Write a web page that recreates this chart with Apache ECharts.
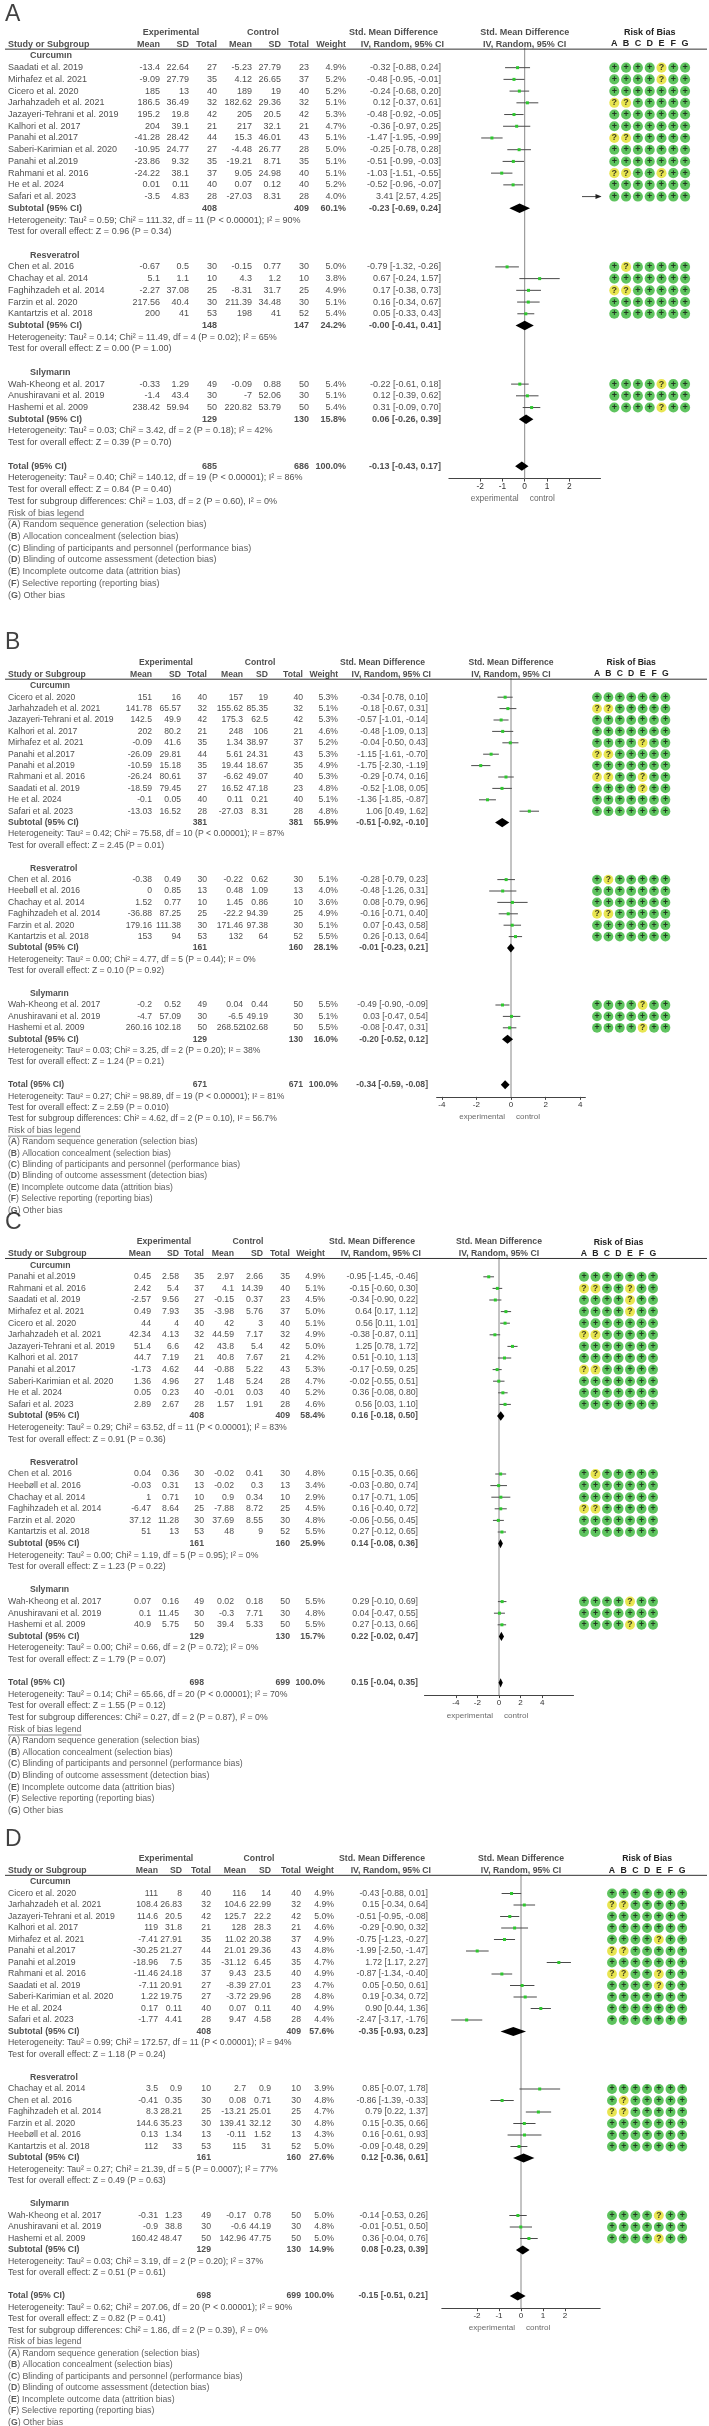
<!DOCTYPE html>
<html>
<head>
<meta charset="utf-8">
<script src="https://cdn.jsdelivr.net/npm/echarts@6/dist/echarts.min.js"></script>
<style>
  html, body { margin: 0; padding: 0; background: #fff; }
  #main { width: 709px; height: 2426px; }
</style>
</head>
<body>
<div id="main"></div>
<script>
// study rows: name, exp mean, exp sd, exp n, ctl mean, ctl sd, ctl n, weight %, smd, lo, hi, risk of bias A-G
const curcuminA = [
  ['Saadati et al. 2019', -13.4, 22.64, 27, -5.23, 27.79, 23, 4.9, -0.32, -0.88, 0.24, '++++?++'],
  ['Mirhafez et al. 2021', -9.09, 27.79, 35, 4.12, 26.65, 37, 5.2, -0.48, -0.95, -0.01, '++++?++'],
  ['Cicero et al. 2020', 185, 13, 40, 189, 19, 40, 5.2, -0.24, -0.68, 0.20, '+++++++'],
  ['Jarhahzadeh et al. 2021', 186.5, 36.49, 32, 182.62, 29.36, 32, 5.1, 0.12, -0.37, 0.61, '??+++++'],
  ['Jazayeri-Tehrani et al. 2019', 195.2, 19.8, 42, 205, 20.5, 42, 5.3, -0.48, -0.92, -0.05, '+++++++'],
  ['Kalhori et al. 2017', 204, 39.1, 21, 217, 32.1, 21, 4.7, -0.36, -0.97, 0.25, '+++++++'],
  ['Panahi et al.2017', -41.28, 28.42, 44, 15.3, 46.01, 43, 5.1, -1.47, -1.95, -0.99, '??+++++'],
  ['Saberi-Karimian et al. 2020', -10.95, 24.77, 27, -4.48, 26.77, 28, 5.0, -0.25, -0.78, 0.28, '+++++++'],
  ['Panahi et al.2019', -23.86, 9.32, 35, -19.21, 8.71, 35, 5.1, -0.51, -0.99, -0.03, '+++++++'],
  ['Rahmani et al. 2016', -24.22, 38.1, 37, 9.05, 24.98, 40, 5.1, -1.03, -1.51, -0.55, '??++?++'],
  ['He et al. 2024', 0.01, 0.11, 40, 0.07, 0.12, 40, 5.2, -0.52, -0.96, -0.07, '+++++++'],
  ['Safari et al. 2023', -3.5, 4.83, 28, -27.03, 8.31, 28, 4.0, 3.41, 2.57, 4.25, '+++++++']
];
const resveratrolA = [
  ['Chen et al. 2016', -0.67, 0.5, 30, -0.15, 0.77, 30, 5.0, -0.79, -1.32, -0.26, '+?+++++'],
  ['Chachay et al. 2014', 5.1, 1.1, 10, 4.3, 1.2, 10, 3.8, 0.67, -0.24, 1.57, '+++++++'],
  ['Faghihzadeh et al. 2014', -2.27, 37.08, 25, -8.31, 31.7, 25, 4.9, 0.17, -0.38, 0.73, '??+++++'],
  ['Farzin et al. 2020', 217.56, 40.4, 30, 211.39, 34.48, 30, 5.1, 0.16, -0.34, 0.67, '+++++++'],
  ['Kantartzis et al. 2018', 200, 41, 53, 198, 41, 52, 5.4, 0.05, -0.33, 0.43, '+++++++']
];
const silymarinA = [
  ['Wah-Kheong et al. 2017', -0.33, 1.29, 49, -0.09, 0.88, 50, 5.4, -0.22, -0.61, 0.18, '++++?++'],
  ['Anushiravani et al. 2019', -1.4, 43.4, 30, -7, 52.06, 30, 5.1, 0.12, -0.39, 0.62, '+++++++'],
  ['Hashemi et al. 2009', 238.42, 59.94, 50, 220.82, 53.79, 50, 5.4, 0.31, -0.09, 0.70, '++++?++']
];
// subtotal / total: exp n, ctl n, weight %, smd, lo, hi
const subtotalsA = [[408, 409, 60.1, -0.23, -0.69, 0.24], [148, 147, 24.2, -0, -0.41, 0.41], [129, 130, 15.8, 0.06, -0.26, 0.39]];
const totalA = [685, 686, 100.0, -0.13, -0.43, 0.17];
const hetA = ['Tau² = 0.59; Chi² = 111.32, df = 11 (P < 0.00001); I² = 90%', 'Tau² = 0.14; Chi² = 11.49, df = 4 (P = 0.02); I² = 65%', 'Tau² = 0.03; Chi² = 3.42, df = 2 (P = 0.18); I² = 42%', 'Tau² = 0.40; Chi² = 140.12, df = 19 (P < 0.00001); I² = 86%'];
const zA = ['Z = 0.96 (P = 0.34)', 'Z = 0.00 (P = 1.00)', 'Z = 0.39 (P = 0.70)', 'Z = 0.84 (P = 0.40)'];
const subTestA = 'Chi² = 1.03, df = 2 (P = 0.60), I² = 0%';
const ticksA = [-2, -1, 0, 1, 2];

const curcuminB = [
  ['Cicero et al. 2020', 151, 16, 40, 157, 19, 40, 5.3, -0.34, -0.78, 0.10, '+++++++'],
  ['Jarhahzadeh et al. 2021', 141.78, 65.57, 32, 155.62, 85.35, 32, 5.1, -0.18, -0.67, 0.31, '??+++++'],
  ['Jazayeri-Tehrani et al. 2019', 142.5, 49.9, 42, 175.3, 62.5, 42, 5.3, -0.57, -1.01, -0.14, '+++++++'],
  ['Kalhori et al. 2017', 202, 80.2, 21, 248, 106, 21, 4.6, -0.48, -1.09, 0.13, '+++++++'],
  ['Mirhafez et al. 2021', -0.09, 41.6, 35, 1.34, 38.97, 37, 5.2, -0.04, -0.50, 0.43, '++++?++'],
  ['Panahi et al.2017', -26.09, 29.81, 44, 5.61, 24.31, 43, 5.3, -1.15, -1.61, -0.70, '??+++++'],
  ['Panahi et al.2019', -10.59, 15.18, 35, 19.44, 18.67, 35, 4.9, -1.75, -2.30, -1.19, '+++++++'],
  ['Rahmani et al. 2016', -26.24, 80.61, 37, -6.62, 49.07, 40, 5.3, -0.29, -0.74, 0.16, '??++?++'],
  ['Saadati et al. 2019', -18.59, 79.45, 27, 16.52, 47.18, 23, 4.8, -0.52, -1.08, 0.05, '++++?++'],
  ['He et al. 2024', -0.1, 0.05, 40, 0.11, 0.21, 40, 5.1, -1.36, -1.85, -0.87, '+++++++'],
  ['Safari et al. 2023', -13.03, 16.52, 28, -27.03, 8.31, 28, 4.8, 1.06, 0.49, 1.62, '+++++++']
];
const resveratrolB = [
  ['Chen et al. 2016', -0.38, 0.49, 30, -0.22, 0.62, 30, 5.1, -0.28, -0.79, 0.23, '+?+++++'],
  ['Heebøll et al. 2016', 0, 0.85, 13, 0.48, 1.09, 13, 4.0, -0.48, -1.26, 0.31, '+++++++'],
  ['Chachay et al. 2014', 1.52, 0.77, 10, 1.45, 0.86, 10, 3.6, 0.08, -0.79, 0.96, '+++++++'],
  ['Faghihzadeh et al. 2014', -36.88, 87.25, 25, -22.2, 94.39, 25, 4.9, -0.16, -0.71, 0.40, '??+++++'],
  ['Farzin et al. 2020', 179.16, 111.38, 30, 171.46, 97.38, 30, 5.1, 0.07, -0.43, 0.58, '+++++++'],
  ['Kantartzis et al. 2018', 153, 94, 53, 132, 64, 52, 5.5, 0.26, -0.13, 0.64, '+++++++']
];
const silymarinB = [
  ['Wah-Kheong et al. 2017', -0.2, 0.52, 49, 0.04, 0.44, 50, 5.5, -0.49, -0.90, -0.09, '++++?++'],
  ['Anushiravani et al. 2019', -4.7, 57.09, 30, -6.5, 49.19, 30, 5.1, 0.03, -0.47, 0.54, '+++++++'],
  ['Hashemi et al. 2009', 260.16, 102.18, 50, 268.52, 102.68, 50, 5.5, -0.08, -0.47, 0.31, '++++?++']
];
const subtotalsB = [[381, 381, 55.9, -0.51, -0.92, -0.10], [161, 160, 28.1, -0.01, -0.23, 0.21], [129, 130, 16.0, -0.20, -0.52, 0.12]];
const totalB = [671, 671, 100.0, -0.34, -0.59, -0.08];
const hetB = ['Tau² = 0.42; Chi² = 75.58, df = 10 (P < 0.00001); I² = 87%', 'Tau² = 0.00; Chi² = 4.77, df = 5 (P = 0.44); I² = 0%', 'Tau² = 0.03; Chi² = 3.25, df = 2 (P = 0.20); I² = 38%', 'Tau² = 0.27; Chi² = 98.89, df = 19 (P < 0.00001); I² = 81%'];
const zB = ['Z = 2.45 (P = 0.01)', 'Z = 0.10 (P = 0.92)', 'Z = 1.24 (P = 0.21)', 'Z = 2.59 (P = 0.010)'];
const subTestB = 'Chi² = 4.62, df = 2 (P = 0.10), I² = 56.7%';
const ticksB = [-4, -2, 0, 2, 4];

const curcuminC = [
  ['Panahi et al.2019', 0.45, 2.58, 35, 2.97, 2.66, 35, 4.9, -0.95, -1.45, -0.46, '+++++++'],
  ['Rahmani et al. 2016', 2.42, 5.4, 37, 4.1, 14.39, 40, 5.1, -0.15, -0.60, 0.30, '??++?++'],
  ['Saadati et al. 2019', -2.57, 9.56, 27, -0.15, 0.37, 23, 4.5, -0.34, -0.90, 0.22, '++++?++'],
  ['Mirhafez et al. 2021', 0.49, 7.93, 35, -3.98, 5.76, 37, 5.0, 0.64, 0.17, 1.12, '++++?++'],
  ['Cicero et al. 2020', 44, 4, 40, 42, 3, 40, 5.1, 0.56, 0.11, 1.01, '+++++++'],
  ['Jarhahzadeh et al. 2021', 42.34, 4.13, 32, 44.59, 7.17, 32, 4.9, -0.38, -0.87, 0.11, '??+++++'],
  ['Jazayeri-Tehrani et al. 2019', 51.4, 6.6, 42, 43.8, 5.4, 42, 5.0, 1.25, 0.78, 1.72, '+++++++'],
  ['Kalhori et al. 2017', 44.7, 7.19, 21, 40.8, 7.67, 21, 4.2, 0.51, -0.10, 1.13, '+++++++'],
  ['Panahi et al.2017', -1.73, 4.62, 44, -0.88, 5.22, 43, 5.3, -0.17, -0.59, 0.25, '??+++++'],
  ['Saberi-Karimian et al. 2020', 1.36, 4.96, 27, 1.48, 5.24, 28, 4.7, -0.02, -0.55, 0.51, '+++++++'],
  ['He et al. 2024', 0.05, 0.23, 40, -0.01, 0.03, 40, 5.2, 0.36, -0.08, 0.80, '+++++++'],
  ['Safari et al. 2023', 2.89, 2.67, 28, 1.57, 1.91, 28, 4.6, 0.56, 0.03, 1.10, '+++++++']
];
const resveratrolC = [
  ['Chen et al. 2016', 0.04, 0.36, 30, -0.02, 0.41, 30, 4.8, 0.15, -0.35, 0.66, '+?+++++'],
  ['Heebøll et al. 2016', -0.03, 0.31, 13, -0.02, 0.3, 13, 3.4, -0.03, -0.80, 0.74, '+++++++'],
  ['Chachay et al. 2014', 1, 0.71, 10, 0.9, 0.34, 10, 2.9, 0.17, -0.71, 1.05, '+++++++'],
  ['Faghihzadeh et al. 2014', -6.47, 8.64, 25, -7.88, 8.72, 25, 4.5, 0.16, -0.40, 0.72, '??+++++'],
  ['Farzin et al. 2020', 37.12, 11.28, 30, 37.69, 8.55, 30, 4.8, -0.06, -0.56, 0.45, '+++++++'],
  ['Kantartzis et al. 2018', 51, 13, 53, 48, 9, 52, 5.5, 0.27, -0.12, 0.65, '+++++++']
];
const silymarinC = [
  ['Wah-Kheong et al. 2017', 0.07, 0.16, 49, 0.02, 0.18, 50, 5.5, 0.29, -0.10, 0.69, '++++?++'],
  ['Anushiravani et al. 2019', 0.1, 11.45, 30, -0.3, 7.71, 30, 4.8, 0.04, -0.47, 0.55, '+++++++'],
  ['Hashemi et al. 2009', 40.9, 5.75, 50, 39.4, 5.33, 50, 5.5, 0.27, -0.13, 0.66, '++++?++']
];
const subtotalsC = [[408, 409, 58.4, 0.16, -0.18, 0.50], [161, 160, 25.9, 0.14, -0.08, 0.36], [129, 130, 15.7, 0.22, -0.02, 0.47]];
const totalC = [698, 699, 100.0, 0.15, -0.04, 0.35];
const hetC = ['Tau² = 0.29; Chi² = 63.52, df = 11 (P < 0.00001); I² = 83%', 'Tau² = 0.00; Chi² = 1.19, df = 5 (P = 0.95); I² = 0%', 'Tau² = 0.00; Chi² = 0.66, df = 2 (P = 0.72); I² = 0%', 'Tau² = 0.14; Chi² = 65.66, df = 20 (P < 0.00001); I² = 70%'];
const zC = ['Z = 0.91 (P = 0.36)', 'Z = 1.23 (P = 0.22)', 'Z = 1.79 (P = 0.07)', 'Z = 1.55 (P = 0.12)'];
const subTestC = 'Chi² = 0.27, df = 2 (P = 0.87), I² = 0%';
const ticksC = [-4, -2, 0, 2, 4];

const curcuminD = [
  ['Cicero et al. 2020', 111, 8, 40, 116, 14, 40, 4.9, -0.43, -0.88, 0.01, '+++++++'],
  ['Jarhahzadeh et al. 2021', 108.4, 26.83, 32, 104.6, 22.99, 32, 4.9, 0.15, -0.34, 0.64, '??+++++'],
  ['Jazayeri-Tehrani et al. 2019', 114.6, 20.5, 42, 125.7, 22.2, 42, 5.0, -0.51, -0.95, -0.08, '+++++++'],
  ['Kalhori et al. 2017', 119, 31.8, 21, 128, 28.3, 21, 4.6, -0.29, -0.90, 0.32, '+++++++'],
  ['Mirhafez et al. 2021', -7.41, 27.91, 35, 11.02, 20.38, 37, 4.9, -0.75, -1.23, -0.27, '++++?++'],
  ['Panahi et al.2017', -30.25, 21.27, 44, 21.01, 29.36, 43, 4.8, -1.99, -2.50, -1.47, '??+++++'],
  ['Panahi et al.2019', -18.96, 7.5, 35, -31.12, 6.45, 35, 4.7, 1.72, 1.17, 2.27, '+++++++'],
  ['Rahmani et al. 2016', -11.46, 24.18, 37, 9.43, 23.5, 40, 4.9, -0.87, -1.34, -0.40, '??++?++'],
  ['Saadati et al. 2019', -7.11, 20.91, 27, -8.39, 27.01, 23, 4.7, 0.05, -0.50, 0.61, '++++?++'],
  ['Saberi-Karimian et al. 2020', 1.22, 19.75, 27, -3.72, 29.96, 28, 4.8, 0.19, -0.34, 0.72, '+++++++'],
  ['He et al. 2024', 0.17, 0.11, 40, 0.07, 0.11, 40, 4.9, 0.90, 0.44, 1.36, '+++++++'],
  ['Safari et al. 2023', -1.77, 4.41, 28, 9.47, 4.58, 28, 4.4, -2.47, -3.17, -1.76, '+++++++']
];
const resveratrolD = [
  ['Chachay et al. 2014', 3.5, 0.9, 10, 2.7, 0.9, 10, 3.9, 0.85, -0.07, 1.78, '+++++++'],
  ['Chen et al. 2016', -0.41, 0.35, 30, 0.08, 0.71, 30, 4.8, -0.86, -1.39, -0.33, '+?+++++'],
  ['Faghihzadeh et al. 2014', 8.3, 28.21, 25, -13.21, 25.01, 25, 4.7, 0.79, 0.22, 1.37, '??+++++'],
  ['Farzin et al. 2020', 144.6, 35.23, 30, 139.41, 32.12, 30, 4.8, 0.15, -0.35, 0.66, '+++++++'],
  ['Heebøll et al. 2016', 0.13, 1.34, 13, -0.11, 1.52, 13, 4.3, 0.16, -0.61, 0.93, '+++++++'],
  ['Kantartzis et al. 2018', 112, 33, 53, 115, 31, 52, 5.0, -0.09, -0.48, 0.29, '+++++++']
];
const silymarinD = [
  ['Wah-Kheong et al. 2017', -0.31, 1.23, 49, -0.17, 0.78, 50, 5.0, -0.14, -0.53, 0.26, '++++?++'],
  ['Anushiravani et al. 2019', -0.9, 38.8, 30, -0.6, 44.19, 30, 4.8, -0.01, -0.51, 0.50, '+++++++'],
  ['Hashemi et al. 2009', 160.42, 48.47, 50, 142.96, 47.75, 50, 5.0, 0.36, -0.04, 0.76, '++++?++']
];
const subtotalsD = [[408, 409, 57.6, -0.35, -0.93, 0.23], [161, 160, 27.6, 0.12, -0.36, 0.61], [129, 130, 14.9, 0.08, -0.23, 0.39]];
const totalD = [698, 699, 100.0, -0.15, -0.51, 0.21];
const hetD = ['Tau² = 0.99; Chi² = 172.57, df = 11 (P < 0.00001); I² = 94%', 'Tau² = 0.27; Chi² = 21.39, df = 5 (P = 0.0007); I² = 77%', 'Tau² = 0.03; Chi² = 3.19, df = 2 (P = 0.20); I² = 37%', 'Tau² = 0.62; Chi² = 207.06, df = 20 (P < 0.00001); I² = 90%'];
const zD = ['Z = 1.18 (P = 0.24)', 'Z = 0.49 (P = 0.63)', 'Z = 0.51 (P = 0.61)', 'Z = 0.82 (P = 0.41)'];
const subTestD = 'Chi² = 1.86, df = 2 (P = 0.39), I² = 0%';
const ticksD = [-2, -1, 0, 1, 2];

const groupNames = ['Curcumın', 'Resveratrol', 'Sılymarın'];
const robDomains = ['A', 'B', 'C', 'D', 'E', 'F', 'G'];
const robLegend = [
  'Random sequence generation (selection bias)',
  'Allocation concealment (selection bias)',
  'Blinding of participants and personnel (performance bias)',
  'Blinding of outcome assessment (detection bias)',
  'Incomplete outcome data (attrition bias)',
  'Selective reporting (reporting bias)',
  'Other bias'
];

const panels = [
  { letter: 'A', groups: [curcuminA, resveratrolA, silymarinA], subtotals: subtotalsA, total: totalA, het: hetA, z: zA, subTest: subTestA, ticks: ticksA },
  { letter: 'B', groups: [curcuminB, resveratrolB, silymarinB], subtotals: subtotalsB, total: totalB, het: hetB, z: zB, subTest: subTestB, ticks: ticksB },
  { letter: 'C', groups: [curcuminC, resveratrolC, silymarinC], subtotals: subtotalsC, total: totalC, het: hetC, z: zC, subTest: subTestC, ticks: ticksC },
  { letter: 'D', groups: [curcuminD, resveratrolD, silymarinD], subtotals: subtotalsD, total: totalD, het: hetD, z: zD, subTest: subTestD, ticks: ticksD }
];

// page layout per panel (pixels)
const layouts = [
  { top: 32.5, s: 11.72, fs: 9, letterRow: -1.5, cols: [160, 189, 217, 252, 281, 309, 346, 441], expC: 171, ctlC: 263, zero: 524.7, ppu: 22.3, range: 3.4, robX0: 614.3, robDx: 11.8 },
  { top: 663, s: 11.4, fs: 8.6, letterRow: -1.75, cols: [152, 181, 207, 243, 268, 303, 338, 428], expC: 166, ctlC: 260, zero: 511, ppu: 17.3, range: 4.3, robX0: 597, robDx: 11.4 },
  { top: 1242, s: 11.6, fs: 8.7, letterRow: -1.64, cols: [151, 179, 204, 234, 263, 290, 325, 418], expC: 164, ctlC: 248, zero: 499, ppu: 10.8, range: 6.9, robX0: 584, robDx: 11.5 },
  { top: 1859, s: 11.5, fs: 8.7, letterRow: -1.65, cols: [158, 182, 211, 246, 271, 301, 334, 428], expC: 166, ctlC: 259, zero: 521, ppu: 22, range: 3.6, robX0: 612, robDx: 11.7 }
];

const FONT = '"Liberation Sans", Arial, sans-serif';
const INK = '#222';
const f2 = v => (Object.is(v, -0) ? '-0.00' : v.toFixed(2));
const ciText = (e, lo, hi) => f2(e) + ' [' + f2(lo) + ', ' + f2(hi) + ']';

const grids = [], xAxes = [], yAxes = [], series = [];

panels.forEach((P, pi) => {
  const L = layouts[pi];
  const y = r => L.top + r * L.s;
  const texts = [], studies = [], diamonds = [], rob = [];
  const txt = (x, r, text, o) => {
    o = o || {};
    texts.push({ value: [x, r], label: {
      formatter: String(text), align: o.align || 'left',
      fontWeight: o.bold ? 'bold' : 'normal', fontSize: o.size || L.fs, color: o.color || INK
    } });
  };
  const c = L.cols;

  txt(5, L.letterRow, P.letter, { size: 23, color: '#111' });
  // headers
  txt(L.expC, 0, 'Experimental', { align: 'center', bold: true });
  txt(L.ctlC, 0, 'Control', { align: 'center', bold: true });
  txt(c[7] - 3, 0, 'Std. Mean Difference', { align: 'right', bold: true });
  txt(L.zero, 0, 'Std. Mean Difference', { align: 'center', bold: true });
  txt(8, 1, 'Study or Subgroup', { bold: true });
  ['Mean', 'SD', 'Total', 'Mean', 'SD', 'Total', 'Weight'].forEach((h, k) => txt(c[k], 1, h, { align: 'right', bold: true }));
  txt(c[7] + 3, 1, 'IV, Random, 95% CI', { align: 'right', bold: true });
  txt(L.zero, 1, 'IV, Random, 95% CI', { align: 'center', bold: true });

  let r = 2;
  const sumRow = (label, st) => {
    txt(8, r, label, { bold: true });
    txt(c[2], r, st[0], { align: 'right', bold: true });
    txt(c[5], r, st[1], { align: 'right', bold: true });
    txt(c[6], r, st[2].toFixed(1) + '%', { align: 'right', bold: true });
    txt(c[7], r, ciText(st[3], st[4], st[5]), { align: 'right', bold: true });
    diamonds.push([st[3], st[4], st[5], r]);
  };
  P.groups.forEach((g, gi) => {
    txt(30, r, groupNames[gi], { bold: true });
    r++;
    g.forEach(s => {
      txt(8, r, s[0]);
      for (let k = 1; k <= 6; k++) txt(c[k - 1], r, s[k], { align: 'right' });
      txt(c[6], r, s[7].toFixed(1) + '%', { align: 'right' });
      txt(c[7], r, ciText(s[8], s[9], s[10]), { align: 'right' });
      studies.push([s[8], s[9], s[10], r]);
      s[11].split('').forEach((m, k) => rob.push({ value: [k, r], itemStyle: { color: m === '+' ? '#36b436' : '#e2df26' }, label: { formatter: m } }));
      r++;
    });
    sumRow('Subtotal (95% CI)', P.subtotals[gi]);
    r++;
    txt(8, r, 'Heterogeneity: ' + P.het[gi]); r++;
    txt(8, r, 'Test for overall effect: ' + P.z[gi]); r++;
    r++;
  });
  const totalRow = r;
  sumRow('Total (95% CI)', P.total);
  r++;
  txt(8, r, 'Heterogeneity: ' + P.het[3]); r++;
  txt(8, r, 'Test for overall effect: ' + P.z[3]); r++;
  txt(8, r, 'Test for subgroup differences: ' + P.subTest); r++;
  const legRow = r;
  txt(8, r, 'Risk of bias legend', { color: '#333' }); r++;
  robLegend.forEach((t, k) => { txt(8, r, '({b|' + robDomains[k] + '}) ' + t, { color: '#333' }); r++; });
  const lastRow = r - 1;

  // plot foot labels
  txt(L.zero - 6, totalRow + 2.8, 'experimental', { align: 'right', size: L.fs - 0.6, color: '#444' });
  txt(L.zero + 5, totalRow + 2.8, 'control', { size: L.fs - 0.6, color: '#444' });

  const minR = -2.5, maxR = lastRow + 0.2;
  // table grid: x in page pixels, y in rows
  const gT = grids.length;
  grids.push({ left: 0, width: 709, top: y(minR), height: (maxR - minR) * L.s });
  xAxes.push({ type: 'value', gridIndex: gT, min: 0, max: 709, show: false });
  yAxes.push({ type: 'value', gridIndex: gT, min: minR, max: maxR, inverse: true, show: false });
  // forest grid
  const gF = grids.length;
  const fTop = 1.3, fBot = totalRow + 1.06;
  grids.push({ left: L.zero - L.range * L.ppu, width: 2 * L.range * L.ppu, top: y(fTop), height: (fBot - fTop) * L.s });
  xAxes.push({
    type: 'value', gridIndex: gF, min: -L.range, max: L.range,
    axisLine: { show: true, onZero: false, lineStyle: { color: '#444', width: 1 } },
    axisTick: { show: true, customValues: P.ticks, length: 3, lineStyle: { color: '#444' } },
    axisLabel: { customValues: P.ticks, fontSize: L.fs - 0.6, color: '#333', margin: 4, fontFamily: FONT },
    splitLine: { show: false }
  });
  yAxes.push({ type: 'value', gridIndex: gF, min: fTop, max: fBot, inverse: true, show: false });
  // risk of bias grid
  const gR = grids.length;
  grids.push({ left: L.robX0 - L.robDx / 2, width: 7 * L.robDx, top: y(1.45), height: (maxR - 1.45) * L.s });
  xAxes.push({
    type: 'category', gridIndex: gR, position: 'top', data: robDomains,
    axisLine: { show: false, onZero: false }, axisTick: { show: false },
    axisLabel: { fontWeight: 'bold', fontSize: L.fs, color: INK, margin: 1, fontFamily: FONT },
    name: 'Risk of Bias', nameLocation: 'middle', nameGap: L.s * 1.05,
    nameTextStyle: { fontWeight: 'bold', fontSize: L.fs, color: INK, fontFamily: FONT }
  });
  yAxes.push({ type: 'value', gridIndex: gR, min: 1.45, max: maxR, inverse: true, show: false });

  series.push({
    type: 'scatter', xAxisIndex: gT, yAxisIndex: gT, symbolSize: 1, silent: true, z: 5,
    itemStyle: { color: 'rgba(0,0,0,0)' },
    label: { show: true, position: 'inside', verticalAlign: 'middle', fontFamily: FONT, color: INK, fontSize: L.fs,
      rich: { b: { fontWeight: 'bold', fontSize: L.fs, color: '#333', fontFamily: FONT } } },
    data: texts
  });
  // header rule and legend underline
  series.push({ type: 'line', xAxisIndex: gT, yAxisIndex: gT, symbol: 'none', silent: true,
    lineStyle: { color: '#333', width: 1 }, data: [[5, 1.42], [707, 1.42]] });
  series.push({ type: 'line', xAxisIndex: gT, yAxisIndex: gT, symbol: 'none', silent: true,
    lineStyle: { color: '#555', width: 0.7 }, data: [[8, legRow + 0.5], [8 + 8.45 * L.fs, legRow + 0.5]] });
  // zero line
  series.push({ type: 'line', xAxisIndex: gF, yAxisIndex: gF, symbol: 'none', silent: true, z: 1,
    lineStyle: { color: '#888', width: 1 }, data: [[0, fTop], [0, fBot]] });
  // study CIs
  series.push({
    type: 'custom', xAxisIndex: gF, yAxisIndex: gF, silent: true, clip: false, z: 3,
    encode: { x: 0, y: 3 },
    data: studies,
    renderItem: (params, api) => {
      const est = api.value(0), lo = api.value(1), hi = api.value(2), row = api.value(3);
      const R = L.range;
      const a = api.coord([Math.max(lo, -R), row]);
      const b = api.coord([Math.min(hi, R), row]);
      const ch = [{ type: 'line', shape: { x1: a[0], y1: a[1], x2: b[0], y2: b[1] }, style: { stroke: '#4a4a4a', lineWidth: 1 } }];
      if (est >= -R && est <= R) {
        const p = api.coord([est, row]);
        ch.push({ type: 'rect', shape: { x: p[0] - 1.5, y: p[1] - 1.5, width: 3, height: 3 }, style: { fill: '#2ec82e' } });
      }
      if (hi > R) ch.push({ type: 'polygon', shape: { points: [[b[0] + 1, b[1]], [b[0] - 5, b[1] - 2.5], [b[0] - 5, b[1] + 2.5]] }, style: { fill: '#222' } });
      if (lo < -R) ch.push({ type: 'polygon', shape: { points: [[a[0] - 1, a[1]], [a[0] + 5, a[1] - 2.5], [a[0] + 5, a[1] + 2.5]] }, style: { fill: '#222' } });
      return { type: 'group', children: ch };
    }
  });
  // pooled diamonds
  series.push({
    type: 'custom', xAxisIndex: gF, yAxisIndex: gF, silent: true, clip: false, z: 4,
    encode: { x: 0, y: 3 },
    data: diamonds,
    renderItem: (params, api) => {
      const est = api.value(0), lo = api.value(1), hi = api.value(2), row = api.value(3);
      return { type: 'polygon', shape: { points: [
        api.coord([lo, row]), api.coord([est, row - 0.4]), api.coord([hi, row]), api.coord([est, row + 0.4])
      ] }, style: { fill: '#000' } };
    }
  });
  // risk of bias
  series.push({
    type: 'scatter', xAxisIndex: gR, yAxisIndex: gR, silent: true, symbolSize: L.s * 0.86,
    label: { show: true, position: 'inside', color: '#111', fontWeight: 'bold', fontSize: L.fs, fontFamily: FONT },
    data: rob
  });
});

const chart = echarts.init(document.getElementById('main'), null, { renderer: 'canvas' });
chart.setOption({
  animation: false,
  backgroundColor: '#fff',
  textStyle: { fontFamily: FONT },
  grid: grids,
  xAxis: xAxes,
  yAxis: yAxes,
  series: series
});
</script>
</body>
</html>
